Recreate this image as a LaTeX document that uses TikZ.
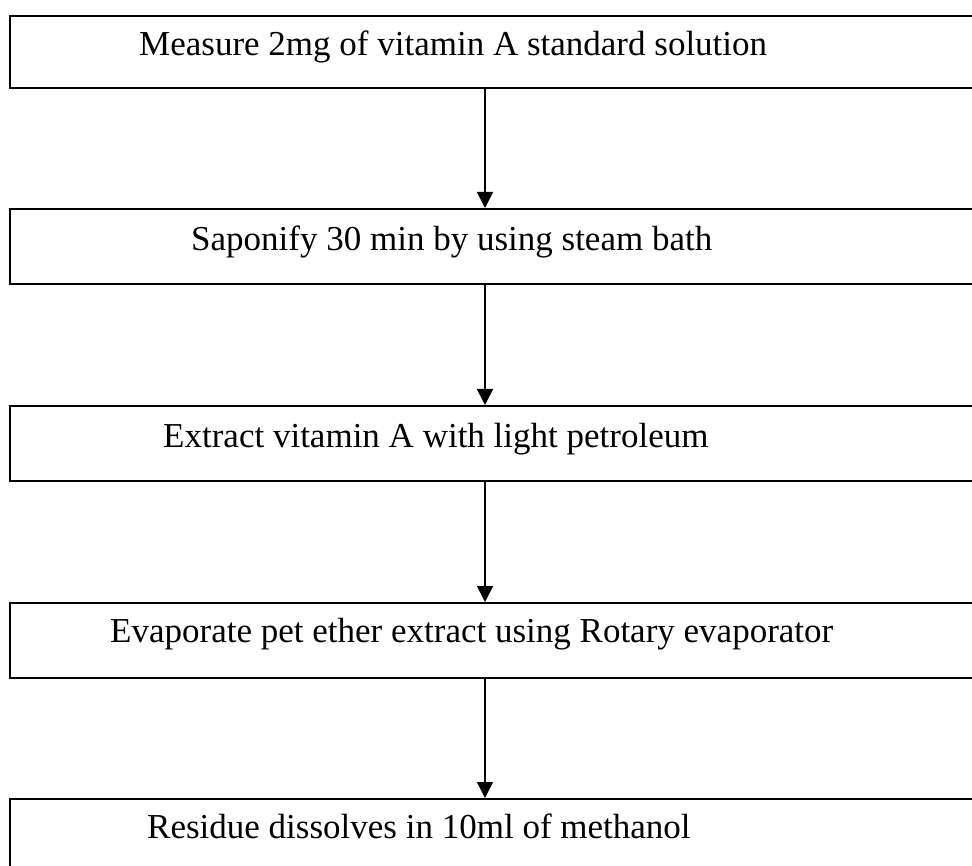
\documentclass[tikz,border=0pt]{standalone}
\usepackage{fontspec}
\setmainfont{Liberation Serif}
\usetikzlibrary{arrows.meta,positioning}

\tikzset{
  stepbox/.style={draw,line width=2pt,rectangle,anchor=north west,minimum width=1000pt,inner sep=0pt},
  steptext/.style={anchor=base west,inner sep=0pt,font=\fontsize{35}{42}\selectfont},
  flow/.style={line width=1.6pt,-{Triangle[length=16pt,width=16pt]}}
}

\begin{document}
\begin{tikzpicture}[x=1pt,y=-1pt]
      \useasboundingbox (0,0) rectangle (972,866);
      \clip (0,0) rectangle (972,866);
      \node[stepbox,minimum height=72pt] (b1) at (9,15) {};
      \node[stepbox,minimum height=75pt] (b2) at (9,208) {};
      \node[stepbox,minimum height=75pt] (b3) at (9,405) {};
      \node[stepbox,minimum height=75pt] (b4) at (9,602) {};
      \node[stepbox,minimum height=80pt] (b5) at (9,798) {};

      \node[steptext] (t1) at (139,56) {Measure 2mg of vitamin A standard solution};
      \node[steptext] (t2) at (191,251) {Saponify 30 min by using steam bath};
      \node[steptext] (t3) at (163,447) {Extract vitamin A with light petroleum};
      \node[steptext] (t4) at (110,642) {Evaporate pet ether extract using Rotary evaporator};
      \node[steptext] (t5) at (147,838) {Residue dissolves in 10ml of methanol};

      \coordinate (ax) at (485,0);
      \draw[flow] (b1.south -| ax) -- (b2.north -| ax);
      \draw[flow] (b2.south -| ax) -- (b3.north -| ax);
      \draw[flow] (b3.south -| ax) -- (b4.north -| ax);
      \draw[flow] (b4.south -| ax) -- (b5.north -| ax);
\end{tikzpicture}
\end{document}
